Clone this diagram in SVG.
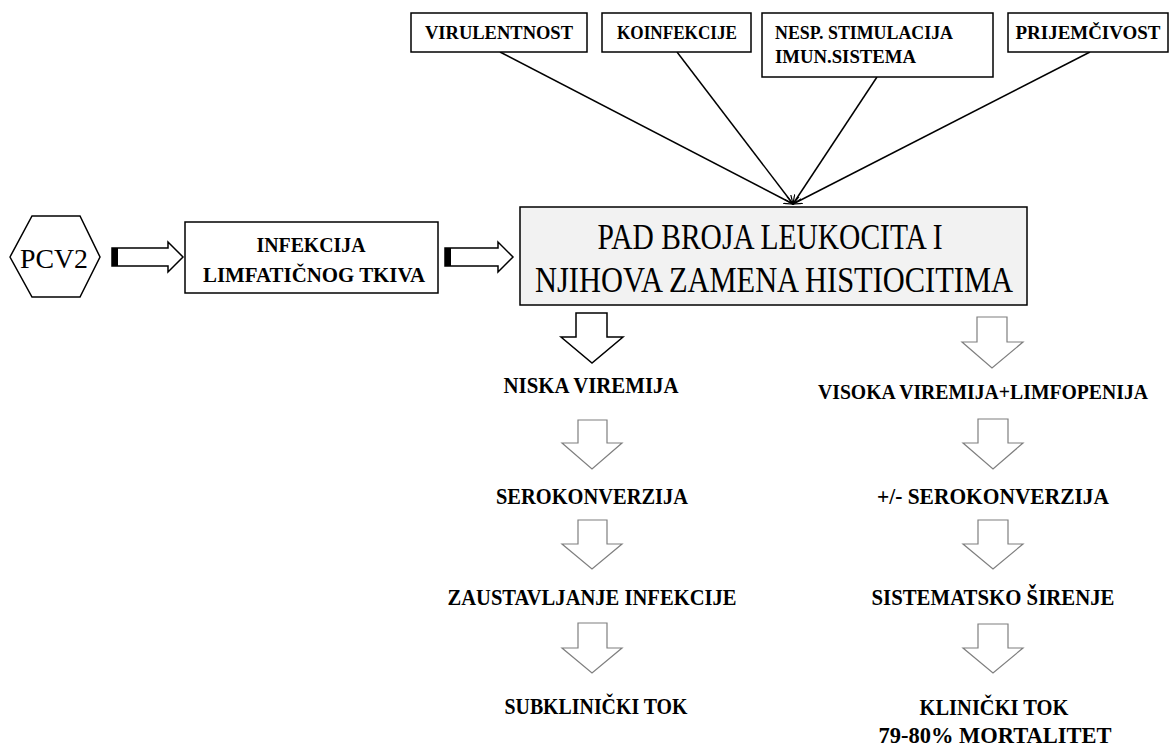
<svg xmlns="http://www.w3.org/2000/svg" width="1173" height="746" viewBox="0 0 1173 746">
<style>
.box{fill:#fff;stroke:#000;stroke-width:1.5}
.main{fill:#f2f2f2;stroke:#000;stroke-width:1.5}
.t{font-family:"Liberation Serif","Times New Roman",serif;font-weight:bold;fill:#000;text-anchor:middle}
.tn{font-family:"Liberation Serif","Times New Roman",serif;fill:#000;text-anchor:middle}
.line{stroke:#000;stroke-width:1.5;fill:none}
.garrow{fill:#fff;stroke:#7f7f7f;stroke-width:1.2}
.barrow{fill:#fff;stroke:#000;stroke-width:1.5}
</style>
<defs>
<marker id="ah" markerWidth="10" markerHeight="8" refX="9" refY="4" orient="auto" markerUnits="userSpaceOnUse">
<path d="M0,0 L9,4 L0,8" fill="none" stroke="#000" stroke-width="1.2"/>
</marker>
</defs>
<rect width="1173" height="746" fill="#fff"/>

<g id="connectors">
<line class="line" x1="500" y1="52" x2="793" y2="204" marker-end="url(#ah)"/>
<line class="line" x1="677" y1="52" x2="793" y2="204" marker-end="url(#ah)"/>
<line class="line" x1="877" y1="77" x2="793" y2="204" marker-end="url(#ah)"/>
<line class="line" x1="1090" y1="52" x2="793" y2="204" marker-end="url(#ah)"/>
<g id="arrow-pcv2">
<polygon class="barrow" points="112,248 168,248 168,242 183,257 168,272 168,266 112,266"/>
<rect x="112" y="248" width="6" height="18" fill="#000"/>
</g>
<g id="arrow-infekcija">
<polygon class="barrow" points="445,248 498,248 498,242 513,257 498,272 498,266 445,266"/>
<rect x="445" y="248" width="6" height="18" fill="#000"/>
</g>
<polygon class="barrow" points="576,313 607,313 607,337 623,337 592,363 561,337 576,337"/>
<polygon class="garrow" points="578,420 607,420 607,443 622,443 592,469 562,443 578,443"/>
<polygon class="garrow" points="578,520 607,520 607,544 622,544 592,569 562,544 578,544"/>
<polygon class="garrow" points="578,623 607,623 607,648 622,648 592,673 562,648 578,648"/>
<polygon class="garrow" points="977,317 1007,317 1007,342 1023,342 992,368 962,342 977,342"/>
<polygon class="garrow" points="978,419 1008,419 1008,443 1023,443 993,469 963,443 978,443"/>
<polygon class="garrow" points="978,520 1008,520 1008,544 1023,544 993,569 963,544 978,544"/>
<polygon class="garrow" points="978,624 1008,624 1008,648 1023,648 993,673 963,648 978,648"/>
</g>

<g id="virulentnost">
<rect class="box" x="411" y="13" width="176" height="39"/>
<text class="t" x="499" y="39" font-size="19" textLength="148" lengthAdjust="spacingAndGlyphs">VIRULENTNOST</text>
</g>
<g id="koinfekcije">
<rect class="box" x="602" y="13" width="149" height="39"/>
<text class="t" x="677" y="39" font-size="19" textLength="120" lengthAdjust="spacingAndGlyphs">KOINFEKCIJE</text>
</g>
<g id="nesp">
<rect class="box" x="762" y="13" width="231" height="64"/>
<text class="t" x="775" y="39" font-size="19" style="text-anchor:start" textLength="178" lengthAdjust="spacingAndGlyphs">NESP. STIMULACIJA</text>
<text class="t" x="775" y="63" font-size="19" style="text-anchor:start" textLength="141" lengthAdjust="spacingAndGlyphs">IMUN.SISTEMA</text>
</g>
<g id="prijemcivost">
<rect class="box" x="1008" y="13" width="160" height="39"/>
<text class="t" x="1088" y="39" font-size="19" textLength="145" lengthAdjust="spacingAndGlyphs">PRIJEMČIVOST</text>
</g>

<g id="pcv2">
<polygon class="box" points="10,257 32,216 80,216 100,257 80,297 32,297"/>
<text class="tn" x="54" y="268" font-size="27" textLength="68" lengthAdjust="spacingAndGlyphs">PCV2</text>
</g>
<g id="infekcija">
<rect class="box" x="185" y="222" width="253" height="71"/>
<text class="t" x="311" y="252" font-size="20" textLength="109" lengthAdjust="spacingAndGlyphs">INFEKCIJA</text>
<text class="t" x="314" y="282" font-size="20" textLength="222" lengthAdjust="spacingAndGlyphs">LIMFATIČNOG TKIVA</text>
</g>
<g id="pad">
<rect class="main" x="520" y="207" width="507" height="98"/>
<text class="tn" x="770" y="249" font-size="36" textLength="345" lengthAdjust="spacingAndGlyphs">PAD BROJA LEUKOCITA I</text>
<text class="tn" x="774" y="292" font-size="36" textLength="478" lengthAdjust="spacingAndGlyphs">NJIHOVA ZAMENA HISTIOCITIMA</text>
</g>

<g id="niska"><text class="t" x="591" y="393" font-size="23" textLength="175" lengthAdjust="spacingAndGlyphs">NISKA VIREMIJA</text></g>
<g id="serokonverzija"><text class="t" x="592" y="504" font-size="23" textLength="192" lengthAdjust="spacingAndGlyphs">SEROKONVERZIJA</text></g>
<g id="zaustavljanje"><text class="t" x="592" y="605" font-size="23" textLength="289" lengthAdjust="spacingAndGlyphs">ZAUSTAVLJANJE INFEKCIJE</text></g>
<g id="subklinicki"><text class="t" x="596" y="714" font-size="23" textLength="183" lengthAdjust="spacingAndGlyphs">SUBKLINIČKI TOK</text></g>

<g id="visoka"><text class="t" x="983" y="399" font-size="21" textLength="330" lengthAdjust="spacingAndGlyphs">VISOKA VIREMIJA+LIMFOPENIJA</text></g>
<g id="plusminus"><text class="t" x="993" y="504" font-size="23" textLength="232" lengthAdjust="spacingAndGlyphs">+/- SEROKONVERZIJA</text></g>
<g id="sistematsko"><text class="t" x="993" y="605" font-size="23" textLength="243" lengthAdjust="spacingAndGlyphs">SISTEMATSKO ŠIRENJE</text></g>
<g id="klinicki">
<text class="t" x="994" y="715" font-size="23" textLength="149" lengthAdjust="spacingAndGlyphs">KLINIČKI TOK</text>
<text class="t" x="995" y="743" font-size="23" textLength="233" lengthAdjust="spacingAndGlyphs">79-80% MORTALITET</text>
</g>
</svg>
